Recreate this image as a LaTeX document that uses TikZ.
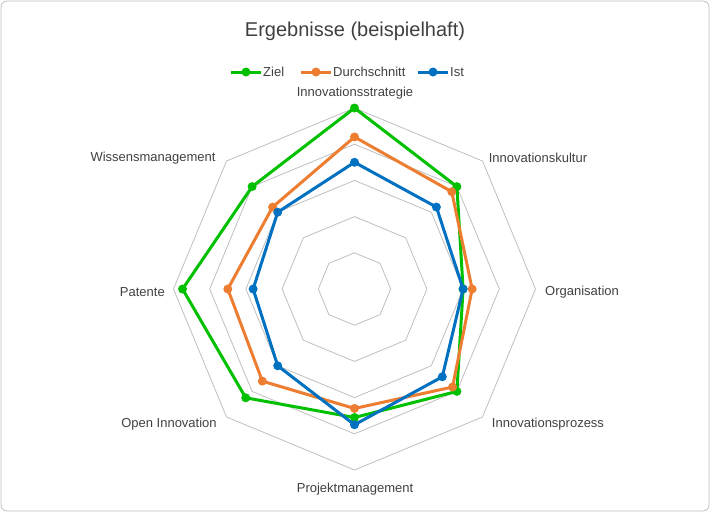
\documentclass[tikz,border=0pt]{standalone}
\usepackage{fontspec}
\setmainfont{Liberation Sans}
\usetikzlibrary{calc}
\definecolor{zg}{HTML}{00C000}
\definecolor{og}{HTML}{ED7D31}
\definecolor{bl}{HTML}{0070C0}
\definecolor{tx}{HTML}{404040}
\begin{document}
\begin{tikzpicture}[x=1pt,y=-1pt,
  lbl/.style={text=tx,font=\fontsize{13}{15}\selectfont,inner sep=0pt},
  ring/.style={draw=black!25,line width=0.8pt},
  ser/.style={line width=3pt,line join=round}]
\path[use as bounding box] (0,0) rectangle (710,512);
\draw[black!25,rounded corners=6pt,line width=0.8pt] (1,1) rectangle (709,511);
\coordinate (c) at (354.5,289);
\def\u{36.2}
\foreach \r in {1,...,5}{
  \draw[ring] ($(c)+(-90:\r*\u)$) \foreach \k in {1,...,7}{ -- ($(c)+(45*\k-90:\r*\u)$)} -- cycle;}
\node[text=tx,font=\fontsize{20}{24}\selectfont] (title) at (355,31) {Ergebnisse (beispielhaft)};
% legend
\foreach \col/\x/\name/\w in {zg/231/Ziel/z,og/301/Durchschnitt/d,bl/418/Ist/i}{
  \coordinate (la\w) at (\x,72); \coordinate (lb\w) at (\x+30,72);
  \draw[\col,line width=3pt] (la\w) -- (lb\w);
  \fill[\col] ($(la\w)!0.5!(lb\w)$) circle (4.5);
  \node[lbl,anchor=west] (ln\w) at (\x+32,72) {\name};}
% labels
\node[lbl,anchor=south] (a0) at (355,99) {Innovationsstrategie};
\node[lbl] (a1) at (538,158) {Innovationskultur};
\node[lbl,anchor=west] (a2) at (545,292) {Organisation};
\node[lbl] (a3) at (548,424) {Innovationsprozess};
\node[lbl] (a4) at (355,489) {Projektmanagement};
\node[lbl] (a5) at (169,424) {Open Innovation};
\node[lbl,anchor=east] (a6) at (165,292) {Patente};
\node[lbl] (a7) at (153,158) {Wissensmanagement};
% series
\foreach \col/\vals in {zg/{5,4,3,4,3.55,4.25,4.75,4},og/{4.2,3.8,3.25,3.83,3.3,3.6,3.5,3.2},bl/{3.5,3.2,3.0,3.43,3.75,3.0,2.8,3.0}}{
  \foreach \v [count=\k from 0] in \vals{ \coordinate (p\k) at ($(c)+(45*\k-90:\v*\u)$); }
  \draw[\col,ser] (p0)--(p1)--(p2)--(p3)--(p4)--(p5)--(p6)--(p7)--cycle;
  \foreach \k in {0,...,7}{\fill[\col] (p\k) circle (4.5);}
}
\end{tikzpicture}
\end{document}
